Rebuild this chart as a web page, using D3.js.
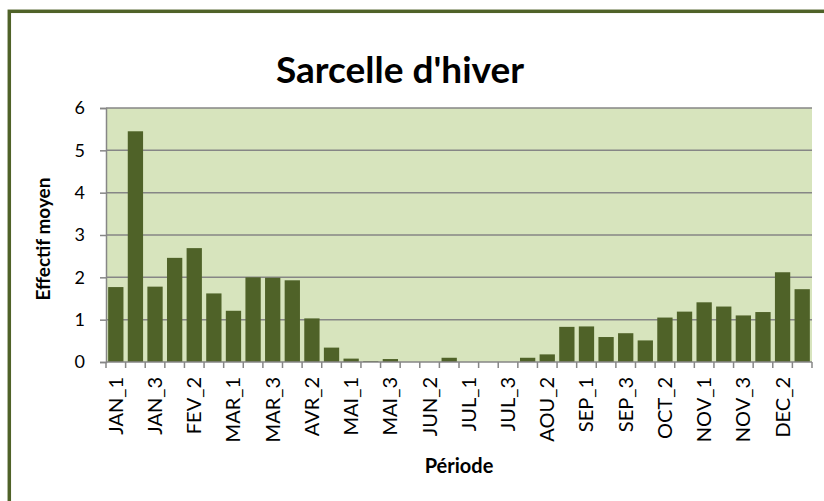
<!DOCTYPE html>
<html>
<head>
<meta charset="utf-8">
<script src="https://cdn.jsdelivr.net/npm/d3@7"></script>
<style>
  html, body { margin: 0; padding: 0; background: #ffffff; }
  svg { display: block; }
  text { font-family: Lato, "Open Sans", sans-serif; fill: #000; }
</style>
</head>
<body>
<svg id="chart" width="824" height="501"></svg>
<script>
const categories = [
  "JAN_1","JAN_2","JAN_3","FEV_1","FEV_2","FEV_3",
  "MAR_1","MAR_2","MAR_3","AVR_1","AVR_2","AVR_3",
  "MAI_1","MAI_2","MAI_3","JUN_1","JUN_2","JUN_3",
  "JUL_1","JUL_2","JUL_3","AOU_1","AOU_2","AOU_3",
  "SEP_1","SEP_2","SEP_3","OCT_1","OCT_2","OCT_3",
  "NOV_1","NOV_2","NOV_3","DEC_1","DEC_2","DEC_3"
];
const effectifMoyen = [
  1.77, 5.45, 1.78, 2.46, 2.69, 1.62,
  1.21, 2.00, 1.99, 1.93, 1.03, 0.34,
  0.08, 0.02, 0.07, 0, 0, 0.10,
  0, 0, 0, 0.10, 0.18, 0.83,
  0.84, 0.59, 0.68, 0.51, 1.05, 1.19,
  1.41, 1.31, 1.10, 1.18, 2.12, 1.72
];
const yTicks = [0, 1, 2, 3, 4, 5, 6];
const title = "Sarcelle d'hiver";
const yTitle = "Effectif moyen";
const xTitle = "Période";

const svg = d3.select("#chart");
const plot = { left: 106, right: 812, top: 108, bottom: 362 };

// outer frame (extends beyond the window on right and bottom)
svg.append("rect")
  .attr("x", 9.3).attr("y", 11.3)
  .attr("width", 900).attr("height", 600)
  .attr("fill", "none")
  .attr("stroke", "#4F6228")
  .attr("stroke-width", 3.5);

const x = d3.scaleBand()
  .domain(categories)
  .range([plot.left, plot.right])
  .paddingInner(0.22)
  .paddingOuter(0.11);

const y = d3.scaleLinear()
  .domain([0, 6])
  .range([plot.bottom, plot.top]);

// plot background
svg.append("rect")
  .attr("x", plot.left).attr("y", plot.top)
  .attr("width", plot.right - plot.left)
  .attr("height", plot.bottom - plot.top)
  .attr("fill", "#D7E4BD");

// gridlines
svg.append("g").selectAll("line")
  .data(yTicks.filter(t => t > 0))
  .join("line")
  .attr("x1", plot.left).attr("x2", plot.right)
  .attr("y1", d => y(d)).attr("y2", d => y(d))
  .attr("stroke", "#868686")
  .attr("stroke-width", 1.5);

// bars
svg.append("g").selectAll("rect")
  .data(categories.map((c, i) => ({ c, v: effectifMoyen[i] })))
  .join("rect")
  .attr("x", d => x(d.c))
  .attr("width", x.bandwidth())
  .attr("y", d => y(d.v))
  .attr("height", d => y(0) - y(d.v))
  .attr("fill", "#4F6228");

// y axis
const yAxis = svg.append("g")
  .attr("transform", `translate(${plot.left},0)`)
  .call(d3.axisLeft(y).tickValues(yTicks).tickSize(6).tickPadding(15).tickFormat(d3.format("d")));
yAxis.select(".domain").attr("stroke", "#868686").attr("stroke-width", 1.5);
yAxis.selectAll(".tick line").attr("stroke", "#868686").attr("stroke-width", 1.5);
yAxis.selectAll(".tick text")
  .style("font-family", "Lato, sans-serif")
  .style("font-size", "18px")
  .attr("fill", "#000");

// x axis line
svg.append("line")
  .attr("x1", plot.left).attr("x2", plot.right)
  .attr("y1", y(0)).attr("y2", y(0))
  .attr("stroke", "#868686").attr("stroke-width", 1.5);

// x ticks at category boundaries
const step = x.step();
const boundaries = d3.range(categories.length + 1).map(i => x.range()[0] + i * step);
svg.append("g").selectAll("line")
  .data(boundaries)
  .join("line")
  .attr("x1", d => d).attr("x2", d => d)
  .attr("y1", y(0)).attr("y2", y(0) + 6)
  .attr("stroke", "#868686").attr("stroke-width", 1.5);

// x labels (every other category)
svg.append("g").selectAll("text")
  .data(categories.filter((c, i) => i % 2 === 0))
  .join("text")
  .attr("transform", d => `translate(${x(d) + x.bandwidth() / 2 + 7},${y(0) + 15}) rotate(-90)`)
  .attr("text-anchor", "end")
  .style("font-size", "20px")
  .text(d => d);

// titles
svg.append("text")
  .attr("x", 400).attr("y", 83)
  .attr("text-anchor", "middle")
  .style("font-size", "37px")
  .style("font-weight", "bold")
  .text(title);

svg.append("text")
  .attr("transform", `translate(50,239) rotate(-90)`)
  .attr("text-anchor", "middle")
  .style("font-size", "19px")
  .style("font-weight", "bold")
  .text(yTitle);

svg.append("text")
  .attr("x", (plot.left + plot.right) / 2).attr("y", 473)
  .attr("text-anchor", "middle")
  .style("font-size", "20px")
  .style("font-weight", "bold")
  .text(xTitle);
</script>
</body>
</html>
